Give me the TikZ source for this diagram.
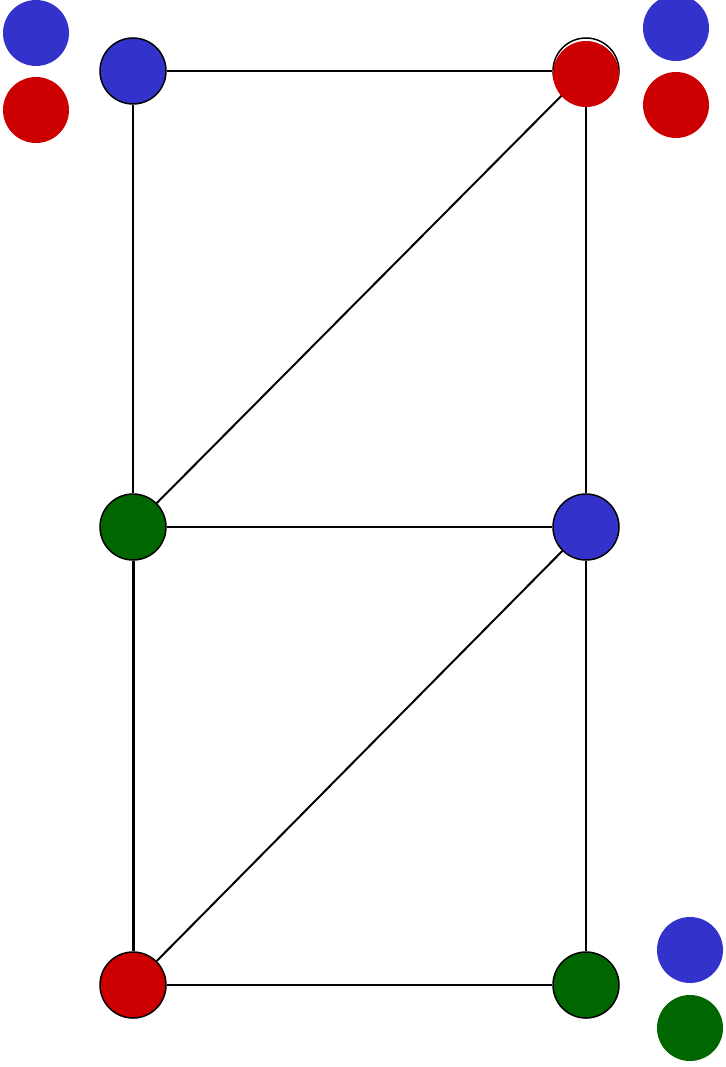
\documentclass[tikz,border=0pt]{standalone}
\definecolor{cblue}{HTML}{3333CC}
\definecolor{cred}{HTML}{CC0000}
\definecolor{cgreen}{HTML}{006600}
\begin{document}
\begin{tikzpicture}[x=1pt,y=-1pt,
  vtx/.style={circle,draw=black,line width=1.5pt,minimum size=66pt,inner sep=0pt},
  dot/.style={circle,minimum size=66pt,inner sep=0pt},
  edge/.style={line width=2.6pt},
  diag/.style={line width=2pt}]
\useasboundingbox (0,0) rectangle (725,1067);
% vertices
\node[vtx,fill=cblue] (tl) at (133,71) {};
\node[vtx,fill=white] (tr) at (586,71) {};
\node[vtx,fill=cgreen] (ml) at (133,527) {};
\node[vtx,fill=cblue] (mr) at (586,527) {};
\node[vtx,fill=cred] (bl) at (133,985) {};
\node[vtx,fill=cgreen] (br) at (586,985) {};
% edges
\draw[edge] (tl) -- (tr);
\draw[edge] (tl) -- (ml);
\draw[edge] (tr) -- (mr);
\draw[diag] (tr) -- (ml);
\draw[edge] (ml) -- (mr);
\draw[edge,line width=3pt] (ml) -- (bl);
\draw[diag] (mr) -- (bl);
\draw[edge] (mr) -- (br);
\draw[edge] (bl) -- (br);
% red fill over top-right vertex
\node[dot,fill=cred] (trfill) at (586,74) {};
% colour lists
\node[dot,fill=cblue] (a1) at (36,33) {};
\node[dot,fill=cred] (a2) at (36,110) {};
\node[dot,fill=cblue] (b1) at (676,28) {};
\node[dot,fill=cred] (b2) at (676,105) {};
\node[dot,fill=cblue] (c1) at (690,950) {};
\node[dot,fill=cgreen] (c2) at (690,1028) {};
\end{tikzpicture}
\end{document}
